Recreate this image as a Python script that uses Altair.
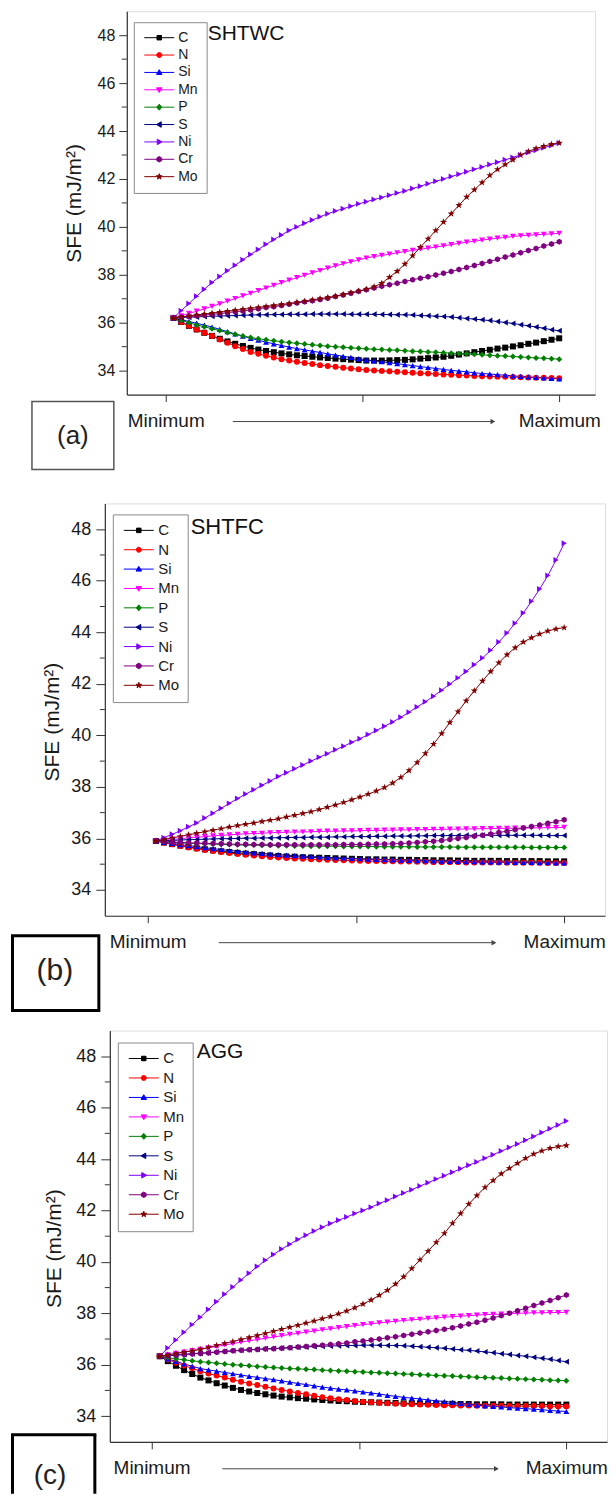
import altair as alt
import pandas as pd

FONT = "Liberation Sans"
TXT = "#1a1a1a"
AXC = "#333333"

ELEMENTS = ["C", "N", "Si", "Mn", "P", "S", "Ni", "Cr", "Mo"]
COLORS = ["#000000", "#ff0000", "#0000ff", "#ff00ff", "#008000", "#000080", "#8000ff", "#800080", "#800000"]
STEP = list(range(51))
X_TICKS = [-1, 24.5, 50]
Y_TICKS = [34, 36, 38, 40, 42, 44, 46, 48]
Y_MINOR = [35, 37, 39, 41, 43, 45, 47]

SHTWC = {
    "C": [36.2, 36.03, 35.87, 35.72, 35.58, 35.45, 35.33, 35.22, 35.12, 35.03, 34.95, 34.88, 34.82, 34.77, 34.72, 34.68, 34.64, 34.61, 34.58, 34.55, 34.53, 34.5, 34.48, 34.46, 34.44, 34.42, 34.42, 34.42, 34.43, 34.44, 34.45, 34.47, 34.5, 34.52, 34.55, 34.58, 34.62, 34.67, 34.72, 34.77, 34.82, 34.87, 34.92, 34.96, 35.01, 35.06, 35.12, 35.17, 35.23, 35.29, 35.35],
    "N": [36.2, 36.03, 35.87, 35.72, 35.58, 35.45, 35.3, 35.16, 35.02, 34.9, 34.78, 34.7, 34.62, 34.55, 34.48, 34.42, 34.37, 34.32, 34.28, 34.23, 34.19, 34.16, 34.12, 34.09, 34.06, 34.03, 34.01, 33.99, 33.97, 33.95, 33.93, 33.91, 33.89, 33.88, 33.86, 33.84, 33.83, 33.81, 33.8, 33.78, 33.77, 33.76, 33.75, 33.74, 33.73, 33.72, 33.71, 33.7, 33.7, 33.69, 33.68],
    "Si": [36.2, 36.13, 36.05, 35.98, 35.9, 35.82, 35.72, 35.63, 35.53, 35.44, 35.35, 35.27, 35.19, 35.12, 35.05, 34.98, 34.92, 34.87, 34.81, 34.76, 34.7, 34.65, 34.6, 34.55, 34.5, 34.45, 34.41, 34.37, 34.33, 34.29, 34.25, 34.21, 34.17, 34.13, 34.09, 34.05, 34.01, 33.98, 33.95, 33.91, 33.88, 33.86, 33.83, 33.81, 33.78, 33.76, 33.74, 33.72, 33.7, 33.68, 33.66],
    "Mn": [36.2, 36.29, 36.39, 36.48, 36.58, 36.68, 36.79, 36.9, 37.01, 37.12, 37.23, 37.34, 37.45, 37.56, 37.67, 37.78, 37.88, 37.98, 38.08, 38.18, 38.28, 38.37, 38.46, 38.54, 38.62, 38.7, 38.76, 38.81, 38.86, 38.92, 38.97, 39.02, 39.07, 39.11, 39.16, 39.21, 39.26, 39.31, 39.36, 39.4, 39.45, 39.49, 39.53, 39.56, 39.6, 39.63, 39.65, 39.67, 39.69, 39.71, 39.73],
    "P": [36.2, 36.1, 36.0, 35.91, 35.83, 35.75, 35.67, 35.59, 35.52, 35.45, 35.38, 35.33, 35.29, 35.25, 35.21, 35.17, 35.14, 35.11, 35.08, 35.05, 35.02, 35.0, 34.98, 34.95, 34.93, 34.91, 34.89, 34.88, 34.86, 34.85, 34.83, 34.81, 34.8, 34.78, 34.77, 34.75, 34.73, 34.71, 34.7, 34.68, 34.66, 34.64, 34.62, 34.61, 34.59, 34.57, 34.55, 34.53, 34.52, 34.5, 34.48],
    "S": [36.2, 36.22, 36.23, 36.24, 36.26, 36.27, 36.28, 36.29, 36.3, 36.31, 36.32, 36.33, 36.33, 36.34, 36.34, 36.35, 36.35, 36.35, 36.36, 36.36, 36.36, 36.36, 36.36, 36.35, 36.35, 36.35, 36.35, 36.34, 36.34, 36.33, 36.33, 36.32, 36.3, 36.29, 36.27, 36.26, 36.24, 36.21, 36.18, 36.15, 36.12, 36.09, 36.05, 36.01, 35.97, 35.92, 35.87, 35.82, 35.77, 35.71, 35.66],
    "Ni": [36.2, 36.5, 36.8, 37.1, 37.4, 37.68, 37.93, 38.17, 38.4, 38.63, 38.85, 39.06, 39.27, 39.47, 39.66, 39.85, 40.0, 40.15, 40.29, 40.42, 40.55, 40.66, 40.76, 40.86, 40.96, 41.05, 41.14, 41.23, 41.32, 41.41, 41.5, 41.6, 41.7, 41.8, 41.9, 42.0, 42.1, 42.2, 42.3, 42.4, 42.5, 42.6, 42.7, 42.8, 42.9, 43.0, 43.1, 43.2, 43.3, 43.4, 43.5],
    "Cr": [36.2, 36.23, 36.26, 36.29, 36.32, 36.35, 36.38, 36.42, 36.46, 36.49, 36.53, 36.58, 36.63, 36.67, 36.72, 36.77, 36.82, 36.87, 36.92, 36.97, 37.02, 37.09, 37.16, 37.23, 37.31, 37.38, 37.45, 37.52, 37.58, 37.65, 37.72, 37.79, 37.86, 37.92, 37.99, 38.06, 38.14, 38.22, 38.3, 38.39, 38.47, 38.56, 38.65, 38.74, 38.83, 38.92, 39.01, 39.1, 39.2, 39.29, 39.38],
    "Mo": [36.2, 36.24, 36.28, 36.32, 36.36, 36.4, 36.44, 36.48, 36.52, 36.56, 36.6, 36.64, 36.68, 36.72, 36.76, 36.8, 36.85, 36.9, 36.95, 37.0, 37.05, 37.11, 37.18, 37.25, 37.32, 37.4, 37.5, 37.65, 37.9, 38.15, 38.45, 38.8, 39.15, 39.5, 39.85, 40.2, 40.55, 40.9, 41.25, 41.55, 41.85, 42.15, 42.4, 42.6, 42.8, 43.0, 43.15, 43.27, 43.37, 43.45, 43.5],
}

SHTFC = {
    "C": [35.9, 35.84, 35.78, 35.72, 35.67, 35.62, 35.58, 35.54, 35.5, 35.47, 35.44, 35.41, 35.39, 35.36, 35.34, 35.32, 35.3, 35.29, 35.27, 35.26, 35.25, 35.24, 35.23, 35.22, 35.21, 35.2, 35.19, 35.19, 35.18, 35.18, 35.17, 35.17, 35.16, 35.16, 35.15, 35.15, 35.15, 35.14, 35.14, 35.13, 35.13, 35.13, 35.13, 35.12, 35.12, 35.12, 35.12, 35.12, 35.11, 35.11, 35.11],
    "N": [35.9, 35.83, 35.77, 35.71, 35.65, 35.6, 35.55, 35.51, 35.47, 35.43, 35.4, 35.37, 35.34, 35.31, 35.28, 35.26, 35.24, 35.22, 35.21, 35.19, 35.18, 35.17, 35.16, 35.15, 35.14, 35.13, 35.12, 35.12, 35.11, 35.11, 35.1, 35.1, 35.09, 35.09, 35.08, 35.08, 35.08, 35.08, 35.07, 35.07, 35.07, 35.07, 35.07, 35.06, 35.06, 35.06, 35.06, 35.06, 35.05, 35.05, 35.05],
    "Si": [35.9, 35.85, 35.81, 35.76, 35.72, 35.68, 35.64, 35.6, 35.57, 35.53, 35.5, 35.47, 35.44, 35.42, 35.39, 35.37, 35.35, 35.33, 35.31, 35.3, 35.28, 35.26, 35.25, 35.24, 35.22, 35.21, 35.2, 35.19, 35.18, 35.17, 35.16, 35.15, 35.14, 35.14, 35.13, 35.12, 35.11, 35.11, 35.1, 35.1, 35.09, 35.09, 35.08, 35.08, 35.07, 35.07, 35.07, 35.06, 35.06, 35.05, 35.05],
    "Mn": [35.9, 35.93, 35.96, 35.99, 36.02, 36.05, 36.07, 36.1, 36.12, 36.14, 36.16, 36.18, 36.19, 36.2, 36.22, 36.23, 36.24, 36.25, 36.25, 36.26, 36.27, 36.28, 36.28, 36.29, 36.29, 36.3, 36.31, 36.31, 36.32, 36.32, 36.33, 36.33, 36.34, 36.34, 36.35, 36.35, 36.36, 36.36, 36.37, 36.37, 36.38, 36.38, 36.39, 36.39, 36.4, 36.4, 36.41, 36.41, 36.42, 36.42, 36.43],
    "P": [35.9, 35.87, 35.85, 35.83, 35.81, 35.8, 35.79, 35.78, 35.77, 35.76, 35.75, 35.74, 35.74, 35.73, 35.73, 35.72, 35.72, 35.71, 35.71, 35.7, 35.7, 35.7, 35.7, 35.69, 35.69, 35.69, 35.69, 35.68, 35.68, 35.68, 35.68, 35.68, 35.67, 35.67, 35.67, 35.67, 35.67, 35.66, 35.66, 35.66, 35.66, 35.66, 35.66, 35.66, 35.66, 35.66, 35.65, 35.65, 35.65, 35.65, 35.65],
    "S": [35.9, 35.91, 35.92, 35.94, 35.95, 35.96, 35.97, 35.98, 35.99, 35.99, 36.0, 36.01, 36.01, 36.02, 36.02, 36.03, 36.03, 36.04, 36.04, 36.05, 36.05, 36.05, 36.06, 36.06, 36.07, 36.07, 36.07, 36.08, 36.08, 36.09, 36.09, 36.09, 36.1, 36.1, 36.11, 36.11, 36.11, 36.11, 36.12, 36.12, 36.12, 36.12, 36.12, 36.12, 36.12, 36.12, 36.12, 36.12, 36.11, 36.11, 36.11],
    "Ni": [35.9, 36.03, 36.16, 36.3, 36.45, 36.6, 36.79, 36.98, 37.17, 37.36, 37.55, 37.72, 37.89, 38.06, 38.23, 38.4, 38.55, 38.7, 38.85, 39.0, 39.15, 39.29, 39.44, 39.58, 39.73, 39.87, 40.03, 40.19, 40.35, 40.52, 40.7, 40.9, 41.1, 41.3, 41.52, 41.75, 41.99, 42.23, 42.48, 42.74, 43.0, 43.3, 43.62, 43.97, 44.35, 44.75, 45.2, 45.68, 46.2, 46.8, 47.45],
    "Cr": [35.9, 35.88, 35.86, 35.85, 35.83, 35.82, 35.81, 35.8, 35.79, 35.78, 35.77, 35.77, 35.76, 35.76, 35.75, 35.75, 35.75, 35.75, 35.75, 35.75, 35.75, 35.75, 35.75, 35.76, 35.76, 35.76, 35.77, 35.78, 35.78, 35.79, 35.8, 35.82, 35.84, 35.87, 35.89, 35.92, 35.96, 36.0, 36.04, 36.08, 36.12, 36.17, 36.23, 36.28, 36.34, 36.4, 36.46, 36.52, 36.59, 36.65, 36.72],
    "Mo": [35.9, 35.96, 36.02, 36.08, 36.14, 36.2, 36.26, 36.32, 36.38, 36.44, 36.5, 36.55, 36.6, 36.66, 36.71, 36.76, 36.83, 36.9, 36.97, 37.04, 37.12, 37.21, 37.3, 37.4, 37.5, 37.61, 37.72, 37.84, 37.98, 38.15, 38.37, 38.64, 38.95, 39.3, 39.66, 40.07, 40.5, 40.92, 41.34, 41.73, 42.11, 42.48, 42.82, 43.13, 43.4, 43.62, 43.79, 43.93, 44.05, 44.13, 44.18],
}

AGG = {
    "C": [36.33, 36.14, 35.96, 35.79, 35.64, 35.5, 35.39, 35.28, 35.19, 35.1, 35.02, 34.96, 34.9, 34.85, 34.8, 34.76, 34.73, 34.7, 34.68, 34.65, 34.63, 34.61, 34.59, 34.58, 34.56, 34.55, 34.54, 34.53, 34.52, 34.51, 34.5, 34.5, 34.49, 34.49, 34.48, 34.48, 34.48, 34.47, 34.47, 34.46, 34.46, 34.46, 34.46, 34.45, 34.45, 34.45, 34.45, 34.45, 34.45, 34.45, 34.45],
    "N": [36.33, 36.2, 36.08, 35.97, 35.86, 35.75, 35.66, 35.58, 35.5, 35.42, 35.34, 35.27, 35.21, 35.14, 35.08, 35.02, 34.96, 34.9, 34.85, 34.79, 34.74, 34.7, 34.66, 34.63, 34.59, 34.56, 34.54, 34.52, 34.5, 34.48, 34.47, 34.46, 34.45, 34.44, 34.43, 34.42, 34.42, 34.41, 34.41, 34.4, 34.4, 34.4, 34.4, 34.39, 34.39, 34.39, 34.39, 34.39, 34.38, 34.38, 34.38],
    "Si": [36.33, 36.23, 36.13, 36.03, 35.94, 35.85, 35.8, 35.75, 35.7, 35.65, 35.6, 35.55, 35.51, 35.46, 35.42, 35.37, 35.32, 35.27, 35.23, 35.18, 35.13, 35.09, 35.05, 35.02, 34.98, 34.94, 34.9, 34.86, 34.81, 34.77, 34.73, 34.7, 34.67, 34.63, 34.6, 34.57, 34.54, 34.5, 34.47, 34.43, 34.4, 34.38, 34.36, 34.33, 34.31, 34.29, 34.27, 34.25, 34.22, 34.2, 34.18],
    "Mn": [36.33, 36.38, 36.44, 36.49, 36.55, 36.6, 36.66, 36.71, 36.77, 36.82, 36.88, 36.93, 36.98, 37.03, 37.08, 37.13, 37.18, 37.22, 37.27, 37.31, 37.36, 37.4, 37.44, 37.48, 37.52, 37.56, 37.59, 37.63, 37.66, 37.69, 37.72, 37.75, 37.77, 37.8, 37.82, 37.85, 37.87, 37.89, 37.91, 37.93, 37.95, 37.96, 37.97, 37.99, 38.0, 38.01, 38.02, 38.02, 38.03, 38.03, 38.04],
    "P": [36.33, 36.28, 36.23, 36.19, 36.15, 36.12, 36.09, 36.06, 36.03, 36.0, 35.98, 35.96, 35.93, 35.91, 35.89, 35.87, 35.85, 35.84, 35.82, 35.81, 35.79, 35.78, 35.76, 35.75, 35.73, 35.72, 35.7, 35.69, 35.67, 35.66, 35.64, 35.63, 35.61, 35.6, 35.58, 35.57, 35.56, 35.54, 35.53, 35.51, 35.5, 35.49, 35.48, 35.46, 35.45, 35.44, 35.43, 35.42, 35.4, 35.39, 35.38],
    "S": [36.33, 36.35, 36.38, 36.4, 36.43, 36.45, 36.47, 36.5, 36.52, 36.54, 36.56, 36.58, 36.6, 36.62, 36.63, 36.65, 36.66, 36.68, 36.69, 36.71, 36.72, 36.73, 36.74, 36.75, 36.75, 36.76, 36.76, 36.76, 36.75, 36.75, 36.74, 36.72, 36.7, 36.68, 36.66, 36.64, 36.61, 36.58, 36.56, 36.53, 36.5, 36.47, 36.43, 36.4, 36.36, 36.33, 36.29, 36.25, 36.21, 36.16, 36.12],
    "Ni": [36.33, 36.65, 36.96, 37.26, 37.56, 37.85, 38.15, 38.45, 38.74, 39.02, 39.3, 39.56, 39.82, 40.06, 40.29, 40.5, 40.69, 40.87, 41.04, 41.2, 41.35, 41.49, 41.62, 41.75, 41.88, 42.0, 42.13, 42.27, 42.4, 42.54, 42.68, 42.81, 42.95, 43.08, 43.22, 43.35, 43.49, 43.62, 43.76, 43.89, 44.03, 44.17, 44.31, 44.45, 44.59, 44.73, 44.88, 45.03, 45.18, 45.33, 45.48],
    "Cr": [36.33, 36.35, 36.37, 36.4, 36.42, 36.44, 36.46, 36.49, 36.51, 36.54, 36.56, 36.58, 36.59, 36.61, 36.62, 36.64, 36.66, 36.69, 36.71, 36.74, 36.76, 36.79, 36.82, 36.85, 36.89, 36.92, 36.96, 37.0, 37.05, 37.09, 37.14, 37.19, 37.23, 37.28, 37.33, 37.38, 37.44, 37.51, 37.58, 37.65, 37.73, 37.82, 37.91, 38.0, 38.1, 38.2, 38.3, 38.4, 38.5, 38.61, 38.71],
    "Mo": [36.33, 36.38, 36.44, 36.49, 36.54, 36.59, 36.67, 36.75, 36.83, 36.9, 36.98, 37.06, 37.14, 37.22, 37.3, 37.38, 37.46, 37.54, 37.62, 37.7, 37.79, 37.88, 37.98, 38.09, 38.22, 38.36, 38.52, 38.7, 38.9, 39.14, 39.42, 39.74, 40.08, 40.42, 40.76, 41.11, 41.5, 41.88, 42.25, 42.58, 42.9, 43.17, 43.43, 43.64, 43.84, 44.03, 44.2, 44.32, 44.42, 44.49, 44.53],
}

# ---------- marker shapes ----------
def poly(pts, s=1.0, cx=0.0):
    return "M" + "L".join(f"{cx + s * x:.3f},{s * y:.3f}" for x, y in pts) + "Z"

HEX_PTS = [(0, -1), (0.866, -0.5), (0.866, 0.5), (0, 1), (-0.866, 0.5), (-0.866, -0.5)]
STAR_PTS = [(0, -1), (0.235, -0.324), (0.951, -0.309), (0.38, 0.124), (0.588, 0.809),
            (0, 0.4), (-0.588, 0.809), (-0.38, 0.124), (-0.951, -0.309), (-0.235, -0.324)]
SQ_PTS = [(-0.9, -0.9), (0.9, -0.9), (0.9, 0.9), (-0.9, 0.9)]
TU_PTS = [(0, -1.1), (1.1, 0.8), (-1.1, 0.8)]
TD_PTS = [(0, 1.1), (1.1, -0.8), (-1.1, -0.8)]
DI_PTS = [(0, -1.2), (1, 0), (0, 1.2), (-1, 0)]
TL_PTS = [(-1.1, 0), (0.8, -1.1), (0.8, 1.1)]
TR_PTS = [(1.1, 0), (-0.8, -1.1), (-0.8, 1.1)]

MARKERS = ["square", "circle", "triangle-up", "triangle-down", "diamond",
           "triangle-left", "triangle-right", poly(HEX_PTS), poly(STAR_PTS, 1.25)]

LINE = "M-1,0L5,0"
LS, LC = 0.5, 2.0
LEG_SHAPES = [
    LINE + poly(SQ_PTS, LS, LC),
    LINE + "M2.5,0A0.5,0.5,0,1,1,1.5,0A0.5,0.5,0,1,1,2.5,0Z",
    LINE + poly(TU_PTS, LS, LC),
    LINE + poly(TD_PTS, LS, LC),
    LINE + poly(DI_PTS, LS, LC),
    LINE + poly(TL_PTS, LS, LC),
    LINE + poly(TR_PTS, LS, LC),
    LINE + poly(HEX_PTS, 0.55, LC),
    LINE + poly(STAR_PTS, 0.6, LC),
]

PANELS = [
    dict(vals=SHTWC, name="SHTWC", tag="(a)", w=469, h=384, xdom=[-6.05, 54.64],
         ylab=16, tsize=8, lpad=4, ytx=-52, yty_off=0,
         lf=14, lx=7, ly=11, lrow=3.4, tf=21, tx=81, ty=23,
         box=(-95, -13, 391, 459), bstroke="#555555", bsw=1.5, tagxy=(-54, 425), tagf=26,
         open_box=False, spacer=(-117, 474)),
    dict(vals=SHTFC, name="SHTFC", tag="(b)", w=501, h=413, xdom=[-6.25, 55.0],
         ylab=18, tsize=9, lpad=5, ytx=-52, yty_off=12,
         lf=15, lx=8, ly=11, lrow=3.4, tf=22, tx=86, ty=24,
         box=(-92.5, -6, 433, 508), bstroke="#000000", bsw=3, tagxy=(-50, 468), tagf=30,
         open_box=False, spacer=(-95, 10)),
    dict(vals=AGG, name="AGG", tag="(c)", w=498, h=412, xdom=[-6.13, 55.0],
         ylab=18, tsize=9, lpad=5, ytx=-55, yty_off=12,
         lf=15, lx=8, ly=12, lrow=3.5, tf=21, tx=87, ty=22,
         box=(-97.5, -15, 405, 464), bstroke="#000000", bsw=3, tagxy=(-60, 446), tagf=28,
         open_box=True, spacer=(-99, 10)),
]


def build(P):
    rows = []
    for el in ELEMENTS:
        vals = P["vals"][el]
        assert len(vals) == len(STEP), (P["name"], el, len(vals))
        for s, v in zip(STEP, vals):
            rows.append({"step": s, "sfe": v, "el": el})
    df = pd.DataFrame(rows)
    w, h = P["w"], P["h"]

    xs = alt.Scale(domain=P["xdom"], nice=False, zero=False)
    ys = alt.Scale(domain=[33, 49], nice=False, zero=False)

    xaxis = alt.Axis(values=X_TICKS, title=None, grid=False,
                     labelExpr="datum.value < 0 ? 'Minimum' : (datum.value > 40 ? 'Maximum' : '')",
                     tickSize=7, tickColor=AXC, tickWidth=1, domainColor=AXC, domainWidth=1.2,
                     labelFontSize=19, labelFont=FONT, labelColor=TXT, labelPadding=10,
                     labelFlush=False, labelOverlap=False)
    yaxis = alt.Axis(values=Y_TICKS, title="SFE (mJ/m²)", grid=False,
                     titleFontSize=21, titleFontWeight="normal", titleFont=FONT, titleColor=TXT,
                     titleX=P["ytx"], titleY=h / 2 + P["yty_off"], titleBaseline="middle",
                     titleAlign="center", titleAngle=270,
                     labelFontSize=P["ylab"], labelFont=FONT, labelColor=TXT,
                     tickSize=P["tsize"], tickColor=AXC, tickWidth=1, labelPadding=P["lpad"],
                     domainColor=AXC, domainWidth=1.2)

    xenc = alt.X("step:Q", scale=xs, axis=xaxis)
    yenc = alt.Y("sfe:Q", scale=ys, axis=yaxis)
    col = alt.Scale(domain=ELEMENTS, range=COLORS)
    base = alt.Chart(df)

    lines = base.mark_line(strokeWidth=1).encode(
        x=xenc, y=yenc, color=alt.Color("el:N", scale=col, legend=None),
        detail="el:N", order="step:Q")
    pts = base.mark_point(filled=True, size=36, opacity=1).encode(
        x=xenc, y=yenc, color=alt.Color("el:N", scale=col, legend=None),
        shape=alt.Shape("el:N", scale=alt.Scale(domain=ELEMENTS, range=MARKERS), legend=None))

    leg = alt.Legend(title=None, orient="none", legendX=P["lx"], legendY=P["ly"],
                     padding=8.5, strokeColor="#8a8a8a", fillColor="white",
                     symbolSize=100, symbolStrokeWidth=1, symbolOpacity=1, labelOffset=22,
                     labelFontSize=P["lf"], labelFont=FONT, labelColor=TXT,
                     rowPadding=P["lrow"])
    legend_layer = base.transform_filter("false").mark_point(
        filled=True, size=100, opacity=1, strokeWidth=1).encode(
        x=xenc, y=yenc,
        fill=alt.Fill("el:N", scale=alt.Scale(domain=ELEMENTS, range=COLORS), legend=leg),
        stroke=alt.Stroke("el:N", scale=alt.Scale(domain=ELEMENTS, range=COLORS), legend=leg),
        shape=alt.Shape("el:N", scale=alt.Scale(domain=ELEMENTS, range=LEG_SHAPES), legend=leg))

    minor = alt.Chart(pd.DataFrame({"m": Y_MINOR})).mark_rule(color=AXC, strokeWidth=1).encode(
        y=alt.Y("m:Q", scale=ys, axis=yaxis), x=alt.value(-5), x2=alt.value(0))

    one = pd.DataFrame({"t": [P["name"]], "g": [P["tag"]]})
    arrow = alt.Chart(one).mark_rule(color="#444444", strokeWidth=1).encode(
        x=alt.XDatum(7.7, scale=xs, axis=xaxis), x2=alt.X2Datum(41.2), y=alt.value(h + 27))
    head = alt.Chart(one).mark_point(shape="triangle-right", filled=True, size=30,
                                     color="#444444", opacity=1).encode(
        x=alt.XDatum(41.4, scale=xs, axis=xaxis), y=alt.value(h + 27))

    ttl = alt.Chart(one).mark_text(align="left", baseline="middle", fontSize=P["tf"],
                                   font=FONT, color="#111111").encode(
        x=alt.value(P["tx"]), y=alt.value(P["ty"]), text="t:N")

    bx1, bx2, by1, by2 = P["box"]
    if P["open_box"]:
        bstyle = dict(color=P["bstroke"], strokeWidth=P["bsw"])
        box = alt.layer(
            alt.Chart(one).mark_rule(**bstyle).encode(
                x=alt.value(bx1 - 1.5), x2=alt.value(bx2 + 1.5), y=alt.value(by1)),
            alt.Chart(one).mark_rule(**bstyle).encode(
                x=alt.value(bx1), y=alt.value(by1), y2=alt.value(by2)),
            alt.Chart(one).mark_rule(**bstyle).encode(
                x=alt.value(bx2), y=alt.value(by1), y2=alt.value(by2)),
        )
    else:
        box = alt.Chart(one).mark_rect(fill="transparent", stroke=P["bstroke"],
                                       strokeWidth=P["bsw"]).encode(
            x=alt.value(bx1), x2=alt.value(bx2), y=alt.value(by1), y2=alt.value(by2))
    tag = alt.Chart(one).mark_text(align="center", baseline="middle", fontSize=P["tagf"],
                                   font=FONT, color="#222222").encode(
        x=alt.value(P["tagxy"][0]), y=alt.value(P["tagxy"][1]), text="g:N")

    sx, sy = P["spacer"]
    spacer = alt.Chart(one).mark_rect(fill="white", strokeWidth=0).encode(
        x=alt.value(sx), x2=alt.value(sx + 1), y=alt.value(0), y2=alt.value(sy))

    panel = alt.layer(spacer, box, tag, minor, lines, pts, legend_layer, ttl, arrow, head).resolve_scale(
        shape="independent", fill="independent", stroke="independent").properties(width=w, height=h)

    # 1-px anchor (kept inside the panel's vertical extent) so each row is placed by its own left extent
    anchor = alt.Chart(pd.DataFrame({"t": [""]})).mark_text(fontSize=1).encode(
        text="t:N", x=alt.value(0), y=alt.value(60)).properties(
        width=1, height=1, view=alt.ViewConfig(strokeWidth=0, stroke="transparent"))
    return alt.hconcat(anchor, panel, spacing=0)


chart = alt.vconcat(*[build(P) for P in PANELS], spacing=17).properties(
    padding={"left": 0, "top": 1, "right": 0, "bottom": 0}
).configure_view(stroke="#444444", strokeWidth=1.2).configure(font=FONT, background="white")

chart.save("out.html", embed_options={"renderer": "svg", "actions": False})
